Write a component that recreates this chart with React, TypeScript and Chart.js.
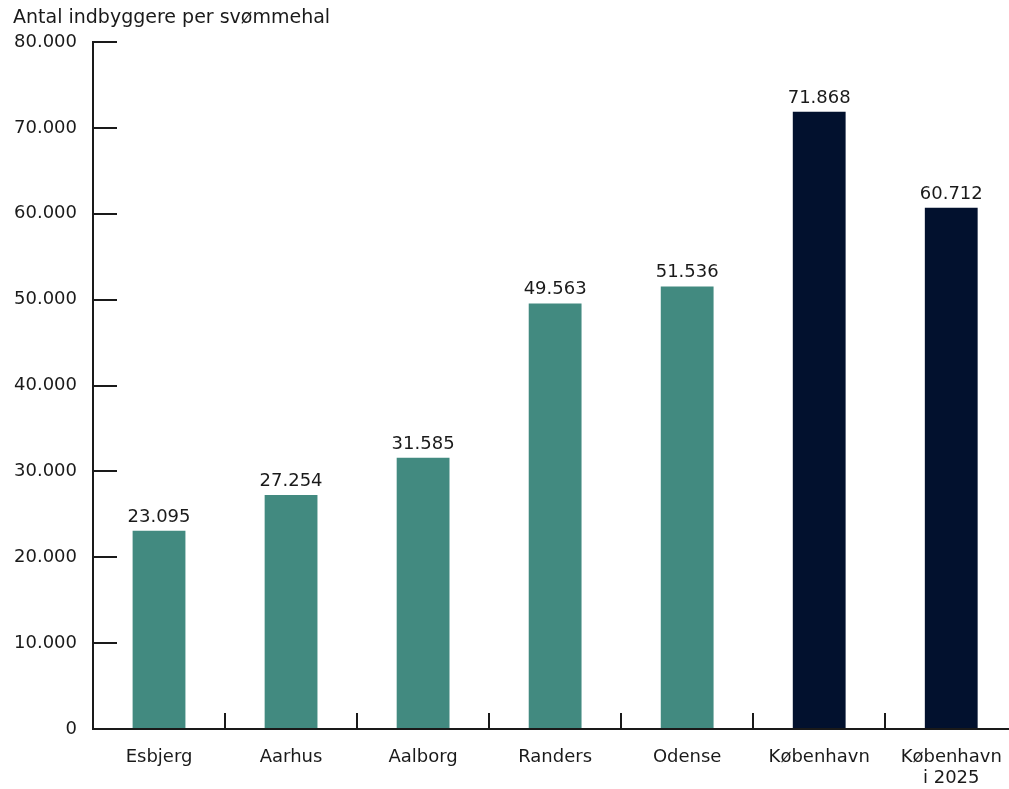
import React, { useEffect, useRef } from "react";
import { Chart, registerables } from "chart.js";

Chart.register(...registerables);

const categories: (string | string[])[] = ["Esbjerg", "Aarhus", "Aalborg", "Randers", "Odense", "København", ["København", "i 2025"]];
const values = [23095, 27254, 31585, 49563, 51536, 71868, 60712];
const barColors = ["#428a80", "#428a80", "#428a80", "#428a80", "#428a80", "#02112e", "#02112e"];
const yTicks = [0, 10000, 20000, 30000, 40000, 50000, 60000, 70000, 80000];
const yTitle = "Antal indbyggere per svømmehal";

const FONT = "'DejaVu Sans', sans-serif";
const FS = 18;
const INK = "#1a1a1a";

const fmt = (v: number) => String(Math.round(v)).replace(/\B(?=(\d{3})+(?!\d))/g, ".");

const axisPlugin = {
  id: "customAxes",
  afterDraw(chart: any) {
    const { ctx, chartArea, scales } = chart;
    const x = scales.x;
    const y = scales.y;
    ctx.save();
    ctx.strokeStyle = INK;
    ctx.lineWidth = 2;
    ctx.lineCap = "butt";
    ctx.beginPath();
    ctx.moveTo(chartArea.left, y.getPixelForValue(80000) - 1);
    ctx.lineTo(chartArea.left, y.getPixelForValue(0) + 1);
    ctx.stroke();
    yTicks.forEach((v) => {
      if (v === 0) return;
      const py = Math.round(y.getPixelForValue(v));
      ctx.beginPath();
      ctx.moveTo(chartArea.left, py);
      ctx.lineTo(chartArea.left + 24, py);
      ctx.stroke();
    });
    const by = Math.round(y.getPixelForValue(0));
    ctx.beginPath();
    ctx.moveTo(chartArea.left - 1, by);
    ctx.lineTo(chartArea.right, by);
    ctx.stroke();
    for (let i = 0; i < categories.length; i++) {
      const px = Math.round((x.getPixelForValue(i) + x.getPixelForValue(i + 1)) / 2);
      ctx.beginPath();
      ctx.moveTo(px, by);
      ctx.lineTo(px, by - 16);
      ctx.stroke();
    }
    ctx.fillStyle = INK;
    ctx.font = `19px ${FONT}`;
    ctx.textAlign = "left";
    ctx.textBaseline = "middle";
    ctx.fillText(yTitle, 13, 18);
    ctx.restore();
  },
  afterDatasetsDraw(chart: any) {
    const { ctx } = chart;
    const meta = chart.getDatasetMeta(0);
    ctx.save();
    ctx.fillStyle = INK;
    ctx.font = `${FS}px ${FONT}`;
    ctx.textAlign = "center";
    ctx.textBaseline = "alphabetic";
    meta.data.forEach((bar: any, i: number) => {
      ctx.fillText(fmt(values[i]), bar.x, bar.y - 9);
    });
    ctx.restore();
  },
};

export default function App() {
  const ref = useRef<HTMLCanvasElement>(null);
  useEffect(() => {
    if (!ref.current) return;
    const chart = new Chart(ref.current, {
      type: "bar",
      data: {
        labels: categories,
        datasets: [
          {
            data: values,
            backgroundColor: barColors,
            borderWidth: 0,
            barPercentage: 0.4,
            categoryPercentage: 1,
          },
        ],
      },
      options: {
        animation: false,
        responsive: true,
        maintainAspectRatio: false,
        layout: { padding: { top: 42, right: 2, left: 0, bottom: 0 } },
        plugins: { legend: { display: false }, tooltip: { enabled: false }, title: { display: false } },
        scales: {
          x: {
            grid: { display: false, drawTicks: false },
            border: { display: false },
            ticks: { color: INK, font: { family: FONT, size: FS, lineHeight: 1.15 }, padding: 18, maxRotation: 0, autoSkip: false },
            afterFit: (s: any) => { s.height = 60; },
          },
          y: {
            min: 0,
            max: 80000,
            grid: { display: false, drawTicks: false },
            border: { display: false },
            afterBuildTicks: (s: any) => { s.ticks = yTicks.map((v) => ({ value: v })); },
            ticks: { color: INK, font: { family: FONT, size: FS }, padding: 16, callback: (v: any) => fmt(Number(v)) },
            afterFit: (s: any) => { s.width = 93; },
          },
        },
      },
      plugins: [axisPlugin],
    });
    return () => chart.destroy();
  }, []);
  return (
    <div style={{ position: "fixed", left: 0, top: 0, width: 1020, height: 789, background: "#fff" }}>
      <canvas ref={ref} />
    </div>
  );
}
